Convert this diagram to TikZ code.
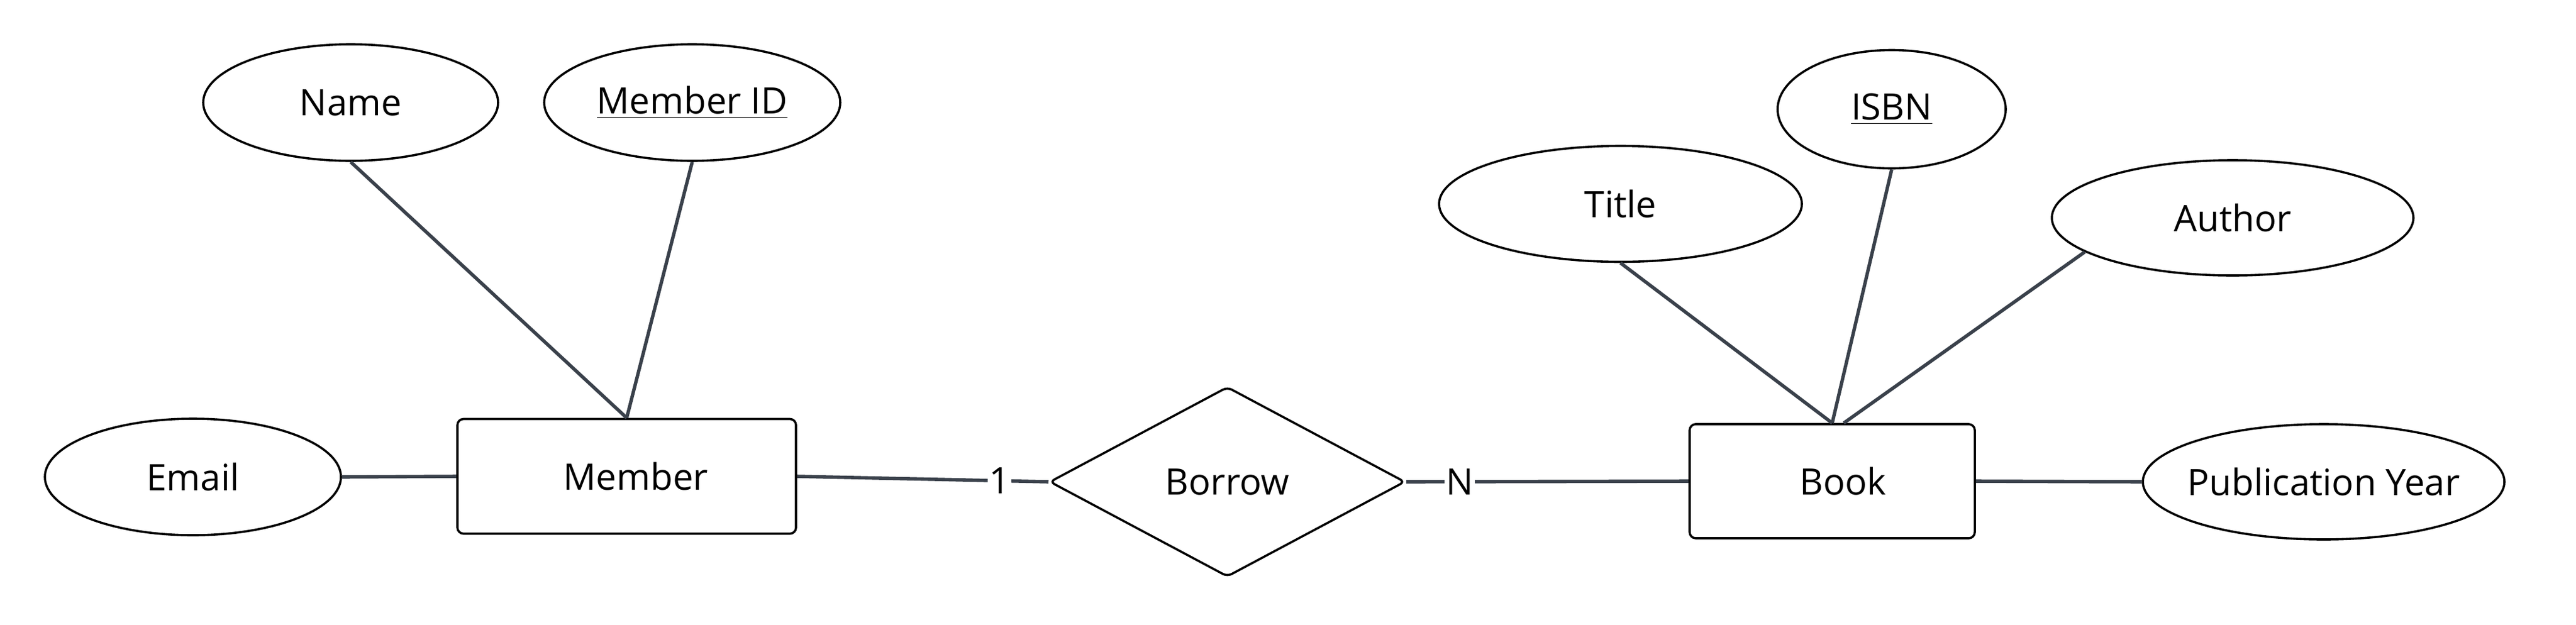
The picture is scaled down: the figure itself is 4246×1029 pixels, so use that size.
\documentclass[tikz,border=0pt]{standalone}
\usepackage{fontspec}
\setmainfont{Open Sans}
\usetikzlibrary{shapes.geometric}
\definecolor{conn}{HTML}{3A414B}
\tikzset{
  attr/.style={ellipse, draw=black, line width=0.9pt, fill=white, inner sep=0pt, font=\fontsize{15}{18}\selectfont},
  ent/.style={rectangle, rounded corners=2.5pt, draw=black, line width=0.9pt, fill=white, inner sep=0pt, font=\fontsize{15}{18}\selectfont},
  rel/.style={diamond, rounded corners=2pt, draw=black, line width=0.9pt, fill=white, inner sep=0pt, font=\fontsize{15}{18}\selectfont},
  link/.style={draw=conn, line width=1.4pt},
  card/.style={fill=white, inner xsep=0.6pt, inner ysep=1pt, font=\fontsize{15}{18}\selectfont}
}
\begin{document}
\begin{tikzpicture}[x=0.25pt,y=-0.25pt]
\fill[white] (0,0) rectangle (4246,1029);
\useasboundingbox (0,0) rectangle (4246,1029);
% entities
\node[ent, minimum width=139.5pt, minimum height=47.25pt] (member) at (1033,785) {\hspace*{7.5pt}Member};
\node[ent, minimum width=117.5pt, minimum height=47pt] (book) at (3020,793) {\hspace*{9pt}Book};
% relationship
\node[rel, minimum width=146.5pt, minimum height=78.25pt, aspect=1.87] (borrow) at (2023,794) {Borrow};
% attributes
\node[attr, minimum width=121.5pt, minimum height=48pt] (name) at (578,169) {Name};
\node[attr, minimum width=122pt, minimum height=48pt] (mid) at (1141,169) {\makebox[0pt]{\underline{Member ID}}};
\node[attr, minimum width=122pt, minimum height=48pt] (email) at (318,786) {Email};
\node[attr, minimum width=94pt, minimum height=48.75pt] (isbn) at (3118,180) {\underline{ISBN}};
\node[attr, minimum width=149.5pt, minimum height=47.75pt] (title) at (2671,336) {Title};
\node[attr, minimum width=149pt, minimum height=47.5pt] (author) at (3680,359) {Author};
\node[attr, minimum width=149pt, minimum height=47.5pt] (pub) at (3830,794) {\makebox[0pt]{Publication Year}};
% connectors
\coordinate (btop2) at ([xshift=4.75pt]book.north);
\draw[link] (name.south) -- (member.north);
\draw[link] (mid.south) -- (member.north);
\draw[link] (email.east) -- (member.west);
\draw[link] (member.east) -- node[card, pos=0.806] (one) {1} (borrow.west);
\draw[link] (borrow.east) -- node[card, pos=0.19] (many) {N} (book.west);
\draw[link] (book.east) -- (pub.west);
\draw[link] (title.south) -- (book.north);
\draw[link] (isbn.south) -- (book.north);
\draw[link] (author.193.5) -- (btop2);
\end{tikzpicture}
\end{document}
